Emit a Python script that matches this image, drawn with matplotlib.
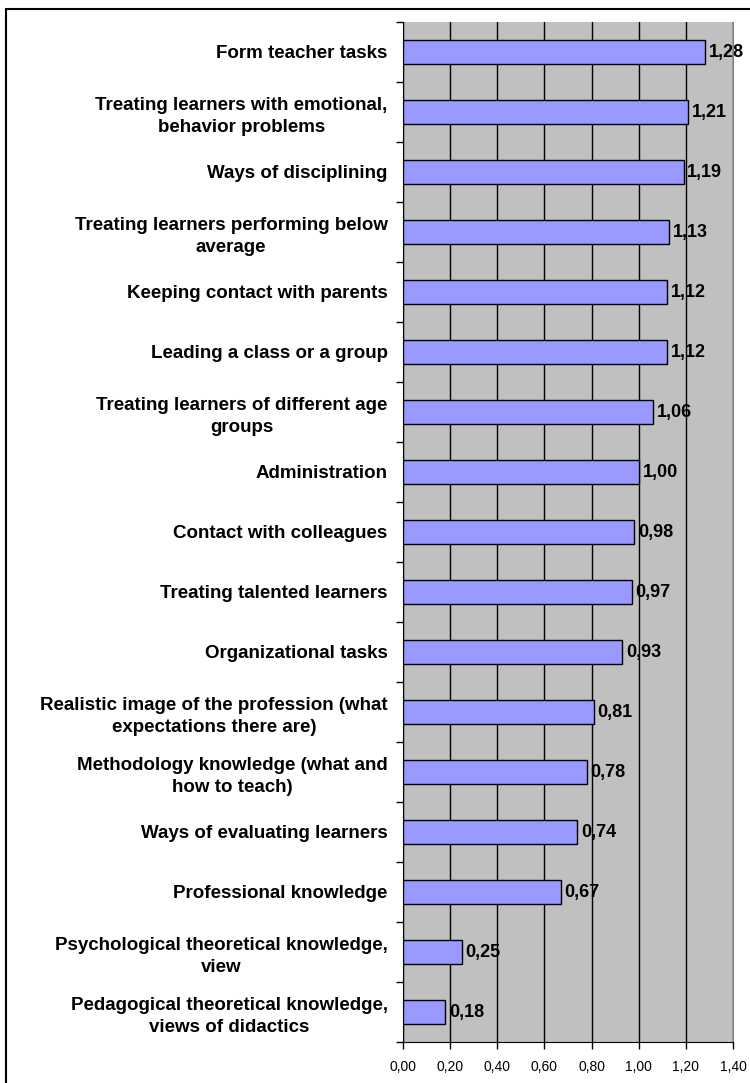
import matplotlib
matplotlib.use("Agg")
import matplotlib.pyplot as plt
from matplotlib.patches import Rectangle
from matplotlib.ticker import FixedLocator

categories = [
    "Form teacher tasks",
    "Treating learners with emotional,\nbehavior problems",
    "Ways of disciplining",
    "Treating learners performing below\naverage",
    "Keeping contact with parents",
    "Leading a class or a group",
    "Treating learners of different age\ngroups",
    "Administration",
    "Contact with colleagues",
    "Treating talented learners",
    "Organizational tasks",
    "Realistic image of the profession (what\nexpectations there are)",
    "Methodology knowledge (what and\nhow to teach)",
    "Ways of evaluating learners",
    "Professional knowledge",
    "Psychological theoretical knowledge,\nview",
    "Pedagogical theoretical knowledge,\nviews of didactics",
]
values = [1.28, 1.21, 1.19, 1.13, 1.12, 1.12, 1.06, 1.00, 0.98, 0.97,
          0.93, 0.81, 0.78, 0.74, 0.67, 0.25, 0.18]
x_ticks = [0.0, 0.2, 0.4, 0.6, 0.8, 1.0, 1.2, 1.4]

plt.rcParams["font.family"] = ["Liberation Sans", "DejaVu Sans"]

W, H = 750, 1083
fig = plt.figure(figsize=(W / 100, H / 100), dpi=100)
fig.patch.set_facecolor("white")

# outer chart border
fig.patches.append(Rectangle((6 / W, -0.01), 1.1, 1 - 9 / H + 0.01,
                             transform=fig.transFigure, fill=False,
                             edgecolor="black", linewidth=1.5))

left, right, top, bottom = 403, 733, 22, 1042
ax = fig.add_axes([left / W, 1 - bottom / H, (right - left) / W, (bottom - top) / H])
ax.set_facecolor("#C0C0C0")

n = len(categories)
ypos = list(range(n))
ax.barh(ypos, values, height=0.4, color="#9999FF", edgecolor="black",
        linewidth=1.0, zorder=3)

ax.set_xlim(0, 1.4)
ax.set_ylim(n - 0.5, -0.5)

ax.set_xticks(x_ticks)
ax.set_xticklabels([f"{t:.2f}".replace(".", ",") for t in x_ticks], fontsize=10)
ax.xaxis.grid(True, color="black", linewidth=1.0, zorder=1)
ax.set_axisbelow(True)

# category labels centered on bars, ticks on category boundaries
ax.set_yticks(ypos)
ax.set_yticklabels(categories, fontsize=13.5, fontweight="bold",
                   multialignment="center", linespacing=1.38)
ax.tick_params(axis="y", length=0, pad=11)
ax.yaxis.set_minor_locator(FixedLocator([i - 0.5 for i in range(n + 1)]))
ax.tick_params(axis="y", which="minor", length=5, width=1, color="black")
ax.tick_params(axis="x", length=5, width=1, color="black", pad=8)

for y, v in zip(ypos, values):
    ax.text(v + 0.016, y, f"{v:.2f}".replace(".", ","), va="center", ha="left",
            fontsize=13, fontweight="bold", zorder=4)

ax.spines["right"].set_color("#808080")
ax.spines["top"].set_visible(False)
ax.spines["left"].set_color("black")
ax.spines["bottom"].set_color("black")

fig.savefig("out.png", dpi=100, facecolor="white")
